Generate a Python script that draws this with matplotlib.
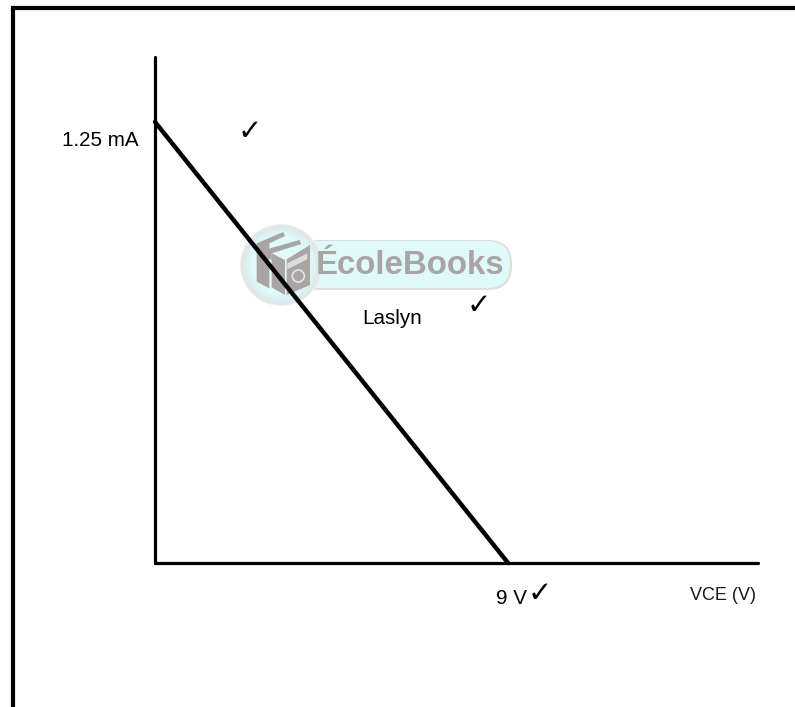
import matplotlib
matplotlib.use("Agg")
import matplotlib.pyplot as plt
from matplotlib.lines import Line2D
from matplotlib.patches import Circle, FancyBboxPatch, Polygon

plt.rcParams["font.family"] = ["Liberation Sans", "DejaVu Sans"]

# === data ===
vce_points = [0, 9]
ic_points = [1.25, 0]
x_max = 15.37
y_max = 1.434
x_label = "VCE (V)"
y_value_label = "1.25 mA"
x_value_label = "9 V"
line_label = "Laslyn"
check = "\u2713"
watermark = "ÉcoleBooks"

W, H = 795, 707
fig = plt.figure(figsize=(W / 100, H / 100), dpi=100, facecolor="white")

# === page frame (open on the right and bottom) ===
fig.add_artist(Line2D([12.5 / W, 12.5 / W], [0, 1 - 8 / H], color="black", lw=3, solid_capstyle="projecting"))
fig.add_artist(Line2D([12.5 / W, 1], [1 - 8 / H, 1 - 8 / H], color="black", lw=3, solid_capstyle="butt"))

# === pixel layer for watermark and free text ===
bg = fig.add_axes([0, 0, 1, 1], zorder=1)
bg.set_xlim(0, W)
bg.set_ylim(H, 0)
bg.axis("off")


def zp(pts):
    # logo shapes were measured on a zoom of the logo
    return [(230 + x / 3, 210 + y / 3) for x, y in pts]


grey = "#a9a5a5"
bg.add_patch(FancyBboxPatch((296, 240), 216, 50, boxstyle="round,pad=0,rounding_size=24",
                            fc="#dedede", ec="none"))
bg.add_patch(FancyBboxPatch((296, 241), 214, 47, boxstyle="round,pad=0,rounding_size=23",
                            fc="#e0f9f9", ec="none"))
for radius, colour in [(41, "#eef0f0"), (40, "#e2e6e6"), (38, "#dcecec"), (35, "#def4f4"), (31, "#e0f9f9")]:
    bg.add_patch(Circle((281, 265), radius, fc=colour, ec="none"))

# back book, middle book, front book
bg.add_patch(Polygon(zp([(80, 100), (160, 66), (165, 78), (118, 100), (118, 235), (80, 215)]), fc=grey, ec="none"))
bg.add_patch(Polygon(zp([(110, 118), (208, 90), (214, 102), (125, 130), (125, 150), (110, 140)]), fc=grey, ec="none"))
bg.add_patch(Polygon(zp([(125, 130), (165, 150), (165, 255), (125, 232)]), fc=grey, ec="none"))
bg.add_patch(Polygon(zp([(170, 148), (240, 105), (240, 225), (170, 255)]), fc=grey, ec="none"))
bg.add_patch(Polygon(zp([(172, 160), (232, 130), (232, 148), (172, 178)]), fc="#dcdcdc", ec="none"))
bg.add_patch(Circle((230 + 205 / 3, 210 + 198 / 3), 6, fc="none", ec="#e6e6e6", lw=1.2))

bg.text(316, 265, watermark, fontsize=23.8, fontweight="bold", color=grey, ha="left", va="center")

# === the load line ===
ax = fig.add_axes([155 / W, 1 - 563 / H, (758 - 155) / W, (563 - 57) / H], zorder=2)
ax.patch.set_alpha(0)
ax.set_xlim(0, x_max)
ax.set_ylim(0, y_max)
for side in ["top", "right"]:
    ax.spines[side].set_visible(False)
for side in ["left", "bottom"]:
    ax.spines[side].set_linewidth(2.3)
    ax.spines[side].set_capstyle("round")
ax.set_xticks([])
ax.set_yticks([])
ax.plot(vce_points, ic_points, color="black", lw=3.2, solid_capstyle="round", clip_on=False)

# === labels ===
top = fig.add_axes([0, 0, 1, 1], zorder=3)
top.set_xlim(0, W)
top.set_ylim(H, 0)
top.axis("off")
top.text(62, 140, y_value_label, fontsize=14.9, ha="left", va="center")
top.text(496, 598, x_value_label, fontsize=14.9, ha="left", va="center")
top.text(362, 318, line_label, fontsize=14.9, ha="left", va="center")
top.text(756, 596, x_label, fontsize=13, ha="right", va="center", color="#1a1a1a")
for cx, cy, size in [(250, 132, 21), (479, 306, 21), (540, 594, 21)]:
    top.text(cx, cy, check, fontsize=size, ha="center", va="center", family=["DejaVu Sans"])

fig.savefig("out.png", dpi=100, facecolor="white")
